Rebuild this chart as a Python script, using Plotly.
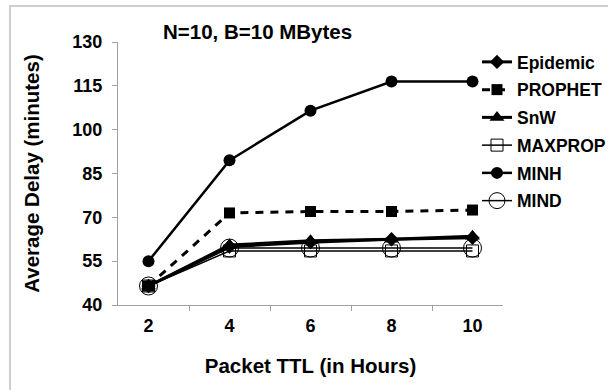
import plotly.graph_objects as go

ttl = ["2", "4", "6", "8", "10"]
epidemic = [46.5, 60, 61.5, 62.5, 63]
prophet = [46.5, 71.5, 72, 72, 72.5]
snw = [46.5, 60.5, 62, 62.5, 63.5]
maxprop = [46.5, 58.5, 58.5, 58.5, 58.5]
minh = [55, 89.5, 106.5, 116.5, 116.5]
mind = [46.5, 59.5, 59.5, 59.5, 59.5]

FONT = "Liberation Sans"
W, H = 608, 390
L, R, T, B = 118, 503, 42, 305

series = [
    ("Epidemic", epidemic, dict(symbol="diamond", size=11, color="black"), dict(color="black", width=3)),
    ("PROPHET", prophet, dict(symbol="square", size=11, color="black"), dict(color="black", width=3, dash="8px,7px")),
    ("SnW", snw, dict(symbol="triangle-up", size=13, color="black"), dict(color="black", width=3)),
    ("MAXPROP", maxprop, dict(symbol="square-open", size=12, color="black", line=dict(width=1)), dict(color="black", width=1.5)),
    ("MINH", minh, dict(symbol="circle", size=12, color="black"), dict(color="black", width=2.5)),
    ("MIND", mind, dict(symbol="circle-open", size=18, color="black", line=dict(width=1)), dict(color="black", width=1.5)),
]

fig = go.Figure()
for name, vals, mk, ln in series:
    fig.add_trace(go.Scatter(x=ttl, y=vals, name=name, mode="lines+markers",
                             marker=mk, line=ln, legendgroup=name))

def px_x(p):
    return (p - L) / (R - L)

def px_y(p):
    return (B - p) / (B - T)

fig.update_layout(
    width=W, height=H,
    margin=dict(l=L, r=W - R, t=T, b=H - B, autoexpand=False),
    paper_bgcolor="white", plot_bgcolor="white",
    font=dict(family=FONT, color="black"),
    showlegend=True,
    legend=dict(x=px_x(477), y=px_y(44), xanchor="left", yanchor="top",
                font=dict(family=FONT, size=17.5, color="black", weight="bold"),
                tracegroupgap=2, itemwidth=30, bgcolor="rgba(0,0,0,0)"),
    xaxis=dict(type="category", tickson="boundaries", ticks="outside", ticklen=5,
               tickcolor="#a0a0a0", showline=True, linecolor="#a0a0a0", linewidth=1,
               showgrid=False, zeroline=False, automargin=False, ticklabelstandoff=4,
               tickfont=dict(family=FONT, size=18, weight="bold"),
               title=dict(text="Packet TTL (in Hours)", standoff=24,
                          font=dict(family=FONT, size=20.5, weight="bold"))),
    yaxis=dict(range=[40, 130], tickvals=[40, 55, 70, 85, 100, 115, 130], ticks="outside",
               ticklen=5, tickcolor="#a0a0a0", showline=True, linecolor="#a0a0a0",
               linewidth=1, showgrid=False, zeroline=False, automargin=False,
               ticklabelstandoff=6,
               tickfont=dict(family=FONT, size=18, weight="bold"),
               title=dict(text="Average Delay (minutes)", standoff=27,
                          font=dict(family=FONT, size=20.5, weight="bold"))),
    shapes=[dict(type="rect", xref="paper", yref="paper",
                 x0=px_x(10), x1=px_x(640), y0=px_y(420), y1=px_y(6),
                 line=dict(color="#c0c0c0", width=1.5), layer="below")],
    annotations=[dict(text="N=10, B=10 MBytes", xref="paper", yref="paper",
                      x=px_x(257), y=px_y(32), xanchor="center", yanchor="middle",
                      showarrow=False,
                      font=dict(family=FONT, size=20.5, color="black", weight="bold"))],
)

fig.write_html("out.html")
